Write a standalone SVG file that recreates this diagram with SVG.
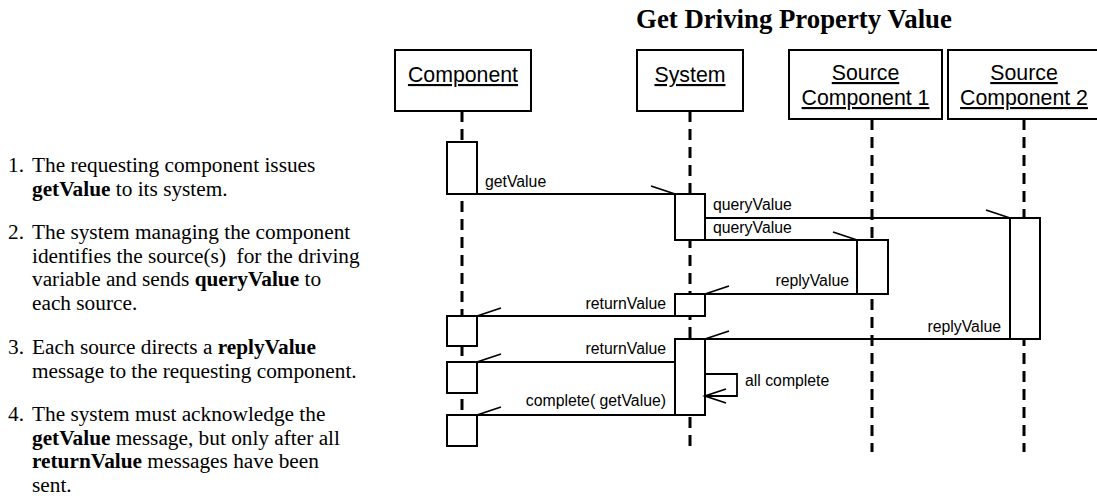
<svg xmlns="http://www.w3.org/2000/svg" width="1097" height="504" viewBox="0 0 1097 504">
<style>
.bg{fill:#fff}
.box{fill:#fff;stroke:#000;stroke-width:2}
.act{fill:#fff;stroke:#000;stroke-width:2}
.life{stroke:#000;stroke-width:3;stroke-dasharray:11 7;fill:none}
.hdr{font-family:"Liberation Sans",Arial,sans-serif;font-size:21.3px;text-anchor:middle;text-decoration:underline;fill:#000}
.msg{stroke:#000;stroke-width:1.8;fill:none}
.lbl{font-family:"Liberation Sans",Arial,sans-serif;font-size:15.8px;fill:#000}
.end{text-anchor:end}
.note{font-family:"Liberation Serif","Times New Roman",serif;font-size:21.3px;fill:#000;white-space:pre}
.title{font-family:"Liberation Serif","Times New Roman",serif;font-size:26.8px;font-weight:bold;text-anchor:middle;fill:#000}
</style>
<defs>
<marker id="hr" markerUnits="userSpaceOnUse" markerWidth="40" markerHeight="30" viewBox="-30 -15 40 30" refX="0" refY="0" orient="0" overflow="visible"><path d="M0,0 L-24,-8" stroke="#000" stroke-width="1.8" fill="none"/></marker>
<marker id="hl" markerUnits="userSpaceOnUse" markerWidth="40" markerHeight="30" viewBox="-10 -15 40 30" refX="0" refY="0" orient="0" overflow="visible"><path d="M0,0 L24,-8" stroke="#000" stroke-width="1.8" fill="none"/></marker>
<marker id="open" markerUnits="userSpaceOnUse" markerWidth="40" markerHeight="30" viewBox="-30 -15 40 30" refX="0" refY="0" orient="auto" overflow="visible"><path d="M-21,-7 L0,0 L-21,7" stroke="#000" stroke-width="1.8" fill="none"/></marker>
</defs>
<rect class="bg" x="0" y="0" width="1097" height="504"/>

<g id="notes">
<text class="title" x="794" y="28">Get Driving Property Value</text>
<text class="note" x="8" y="172">1.</text>
<text class="note" x="32" y="172">The requesting component issues</text>
<text class="note" x="32" y="195.5"><tspan font-weight="bold">getValue</tspan> to its system.</text>
<text class="note" x="8" y="239">2.</text>
<text class="note" x="32" y="239">The system managing the component</text>
<text class="note" x="32" y="262.5">identifies the source(s)  for the driving</text>
<text class="note" x="32" y="286">variable and sends <tspan font-weight="bold">queryValue</tspan> to</text>
<text class="note" x="32" y="309.5">each source.</text>
<text class="note" x="8" y="354">3.</text>
<text class="note" x="32" y="354">Each source directs a <tspan font-weight="bold">replyValue</tspan></text>
<text class="note" x="32" y="377.5">message to the requesting component.</text>
<text class="note" x="8" y="421">4.</text>
<text class="note" x="32" y="421">The system must acknowledge the</text>
<text class="note" x="32" y="444.5"><tspan font-weight="bold">getValue</tspan> message, but only after all</text>
<text class="note" x="32" y="468"><tspan font-weight="bold">returnValue</tspan> messages have been</text>
<text class="note" x="32" y="491.5">sent.</text>
</g>

<g id="component">
<line class="life" x1="462" y1="111" x2="462" y2="452"/>
<rect class="box" x="395" y="50" width="136" height="61"/>
<text class="hdr" x="463" y="82">Component</text>
<rect class="act" x="447" y="142" width="30" height="52"/>
<rect class="act" x="447" y="316" width="30" height="30"/>
<rect class="act" x="447" y="362" width="30" height="31"/>
<rect class="act" x="447" y="415" width="30" height="31"/>
</g>

<g id="system">
<line class="life" x1="690" y1="111" x2="690" y2="452"/>
<rect class="box" x="637" y="50" width="106" height="61"/>
<text class="hdr" x="690" y="82">System</text>
<rect class="act" x="675" y="194" width="30" height="46"/>
<rect class="act" x="675" y="294" width="30" height="22"/>
<rect class="act" x="675" y="339" width="30" height="76"/>
</g>

<g id="source1">
<line class="life" x1="872" y1="119" x2="872" y2="452"/>
<rect class="box" x="789" y="50" width="153" height="69"/>
<text class="hdr" x="865.5" y="80">Source</text>
<text class="hdr" x="865.5" y="105">Component 1</text>
<rect class="act" x="857" y="240" width="31" height="54"/>
</g>

<g id="source2">
<line class="life" x1="1024" y1="119" x2="1024" y2="452"/>
<rect class="box" x="948" y="50" width="152" height="69"/>
<text class="hdr" x="1024" y="80">Source</text>
<text class="hdr" x="1024" y="105">Component 2</text>
<rect class="act" x="1010" y="218" width="30" height="121"/>
</g>

<g id="connectors">
<line class="msg" x1="477" y1="194" x2="675" y2="194" marker-end="url(#hr)"/>
<line class="msg" x1="705" y1="218" x2="1010" y2="218" marker-end="url(#hr)"/>
<line class="msg" x1="705" y1="240" x2="857" y2="240" marker-end="url(#hr)"/>
<line class="msg" x1="857" y1="294" x2="705" y2="294" marker-end="url(#hl)"/>
<line class="msg" x1="675" y1="316" x2="477" y2="316" marker-end="url(#hl)"/>
<line class="msg" x1="1010" y1="339" x2="705" y2="339" marker-end="url(#hl)"/>
<line class="msg" x1="675" y1="362" x2="477" y2="362" marker-end="url(#hl)"/>
<path class="msg" d="M705,374 L737,374 L737,396 L705,396" marker-end="url(#open)"/>
<line class="msg" x1="675" y1="415" x2="477" y2="415" marker-end="url(#hl)"/>
<text class="lbl" x="485" y="187">getValue</text>
<text class="lbl" x="713" y="210">queryValue</text>
<text class="lbl" x="713" y="233">queryValue</text>
<text class="lbl end" x="849" y="286">replyValue</text>
<text class="lbl end" x="666" y="308.5">returnValue</text>
<text class="lbl end" x="1001" y="332">replyValue</text>
<text class="lbl end" x="666" y="354">returnValue</text>
<text class="lbl" x="745" y="386">all complete</text>
<text class="lbl end" x="666" y="406">complete( getValue)</text>
</g>
</svg>
